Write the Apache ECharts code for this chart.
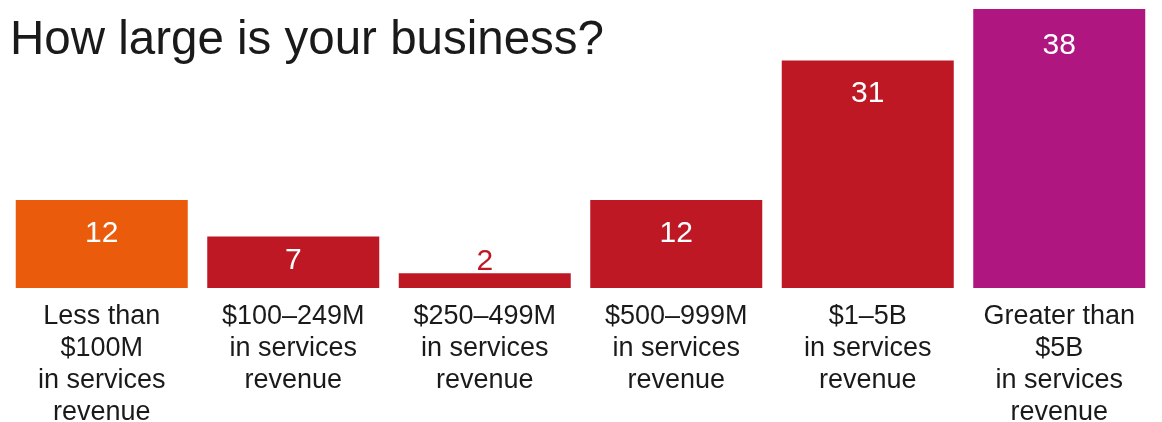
<!DOCTYPE html>
<html>
<head>
<meta charset="utf-8">
<script src="https://cdn.jsdelivr.net/npm/echarts@6/dist/echarts.min.js"></script>
<style>
  html, body { margin: 0; padding: 0; background: #fff; overflow: hidden; }
  #chart { width: 1162px; height: 422px; }
</style>
</head>
<body>
<div id="chart"></div>
<script>
// Survey: company size by services revenue
const titleText = 'How large is your business?';
const categories = [
  'Less than\n$100M\nin services\nrevenue',
  '$100\u2013249M\nin services\nrevenue',
  '$250\u2013499M\nin services\nrevenue',
  '$500\u2013999M\nin services\nrevenue',
  '$1\u20135B\nin services\nrevenue',
  'Greater than\n$5B\nin services\nrevenue'
];
const values = [12, 7, 2, 12, 31, 38];
const barColors = ['#EA5B0C', '#BD1823', '#BD1823', '#BD1823', '#BD1823', '#AF1680'];
// Bars too short to hold their value get the label above them
const outsideLabel = [false, false, true, false, false, false];
// Gap between each bar's top edge and its value label
const labelGap = [19, 9, -3, 19, 18, 22];

const FONT = '"Liberation Sans", Arial, sans-serif';

const seriesData = values.map((v, i) => ({
  value: v,
  itemStyle: { color: barColors[i] },
  label: outsideLabel[i]
    ? { position: 'top', distance: labelGap[i], color: barColors[i] }
    : { position: 'insideTop', distance: labelGap[i], color: '#ffffff' }
}));

const el = document.getElementById('chart');
const chart = echarts.init(el, null, { renderer: 'canvas', width: 1162, height: 422 });
chart.setOption({
  animation: false,
  title: {
    text: titleText,
    left: 5,
    top: 12,
    textStyle: { fontFamily: FONT, fontSize: 47.5, fontWeight: 'normal', color: '#1a1a1a' }
  },
  grid: {
    left: 6, right: 7, top: 9, bottom: 134,
    containLabel: false,
    outerBoundsMode: 'none'
  },
  xAxis: {
    type: 'category',
    data: categories,
    axisLine: { show: false },
    axisTick: { show: false },
    axisLabel: {
      interval: 0,
      margin: 13,
      fontFamily: FONT,
      fontSize: 27,
      lineHeight: 32,
      color: '#1a1a1a',
      verticalAlign: 'top'
    }
  },
  yAxis: {
    type: 'value',
    min: 0,
    max: 38,
    show: false,
    splitLine: { show: false }
  },
  series: [{
    type: 'bar',
    data: seriesData,
    barWidth: 172,
    label: {
      show: true,
      fontFamily: FONT,
      fontSize: 30,
      formatter: '{c}'
    }
  }]
});
</script>
</body>
</html>
